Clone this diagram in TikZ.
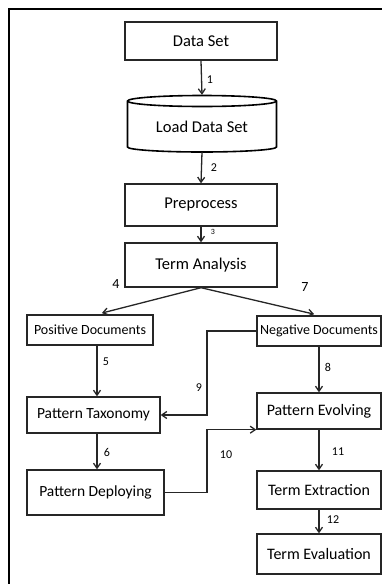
\documentclass[tikz,border=0pt]{standalone}
\usepackage{fontspec}
\setmainfont{Carlito}
\usetikzlibrary{arrows.meta,calc}
\begin{document}
\begin{tikzpicture}[x=1pt,y=-1pt,
  box/.style={draw=black!85,line width=1.4pt,rectangle,inner sep=0pt,font=\fontsize{16.5}{18}\selectfont},
  cyl/.style={draw=black,line width=1.6pt},
  arr/.style={draw=black!85,line width=1.3pt,-{Straight Barb[length=5pt,width=7pt]}},
  lbl/.style={inner sep=0pt,font=\fontsize{12}{13}\selectfont}]
\useasboundingbox (0,0) rectangle (382,584);
% frame
\draw[line width=2.6pt] (9,590) -- (9,9) -- (390,9);
% nodes
\node[box,minimum width=152pt,minimum height=38pt] (ds) at (201,41) {Data Set};
\draw[cyl,fill=white]
  (127.5,101) -- (127.5,147) arc[start angle=180,end angle=0,x radius=74.5,y radius=5]
  -- (276.5,101) arc[start angle=0,end angle=-180,x radius=74.5,y radius=5.5] -- cycle;
\draw[cyl] (127.5,101) arc[start angle=180,end angle=0,x radius=74.5,y radius=5.5];
\node[inner sep=0pt,minimum width=150pt,minimum height=57pt,font=\fontsize{16.5}{18}\selectfont,text height=18pt] (load) at (202,123.5) {Load Data Set};
\node[box,minimum width=152pt,minimum height=42pt] (pre) at (201,205) {Preprocess};
\node[box,minimum width=152pt,minimum height=44pt] (ta) at (201,265) {Term Analysis};
\node[box,minimum width=126pt,minimum height=30pt,font=\fontsize{14}{15}\selectfont] (pos) at (90,330) {Positive Documents};
\node[box,minimum width=124pt,minimum height=30pt,font=\fontsize{14}{15}\selectfont] (neg) at (319,331) {Negative Documents};
\node[box,minimum width=133pt,minimum height=36pt,font=\fontsize{15.5}{17}\selectfont] (pt) at (93.5,415) {Pattern Taxonomy};
\node[box,minimum width=137pt,minimum height=45pt,font=\fontsize{15.5}{17}\selectfont] (pd) at (95.5,492.5) {Pattern Deploying};
\node[box,minimum width=124pt,minimum height=36pt,font=\fontsize{16}{17}\selectfont] (pe) at (319,411) {Pattern Evolving};
\node[box,minimum width=124pt,minimum height=38pt,font=\fontsize{16}{17}\selectfont] (te) at (319,490) {Term Extraction};
\node[box,minimum width=124pt,minimum height=40pt,font=\fontsize{16}{17}\selectfont] (tv) at (319,554) {Term Evaluation};
% helper coordinates
\coordinate (lx) at (97,0);
\coordinate (vx) at (207,0);
% connectors
\draw[arr] (ds.south) -- (load.north);
\draw[arr] (load.south) -- (pre.north);
\draw[arr] (pre.south) -- (ta.north);
\draw[arr,shorten >=5pt] (ta.south) -- (pos.north -| lx);
\draw[arr,shorten >=5pt] (ta.south) -- (neg.north);
\draw[arr] (pos.south -| lx) -- (pt.north -| lx);
\draw[arr] (pt.south -| lx) -- (pd.north -| lx);
\draw[arr] (neg.south) -- (pe.north);
\draw[arr] (pe.south) -- (te.north);
\draw[arr] (te.south) -- (tv.north);
\draw[arr] (neg.west) -- (neg.west -| vx) -- (vx |- pt.east) -- (pt.east);
\draw[arr] (pd.east) -- (pd.east -| vx) -- (vx |- pe.south west) -- (pe.south west);
% labels
\node[lbl] (l1) at (210,80) {1};
\node[lbl] (l2) at (214,168) {2};
\node[lbl,font=\fontsize{8}{9}\selectfont] (l3) at (213,232) {3};
\node[lbl,font=\fontsize{14}{15}\selectfont] (l4) at (116,284) {4};
\node[lbl,font=\fontsize{14}{15}\selectfont] (l7) at (305,287) {7};
\node[lbl] (l5) at (106,362) {5};
\node[lbl] (l6) at (107,452) {6};
\node[lbl] (l8) at (328,367) {8};
\node[lbl] (l9) at (199,388) {9};
\node[lbl] (l10) at (226,455) {10};
\node[lbl] (l11) at (338,452) {11};
\node[lbl] (l12) at (333,520) {12};
\end{tikzpicture}
\end{document}
